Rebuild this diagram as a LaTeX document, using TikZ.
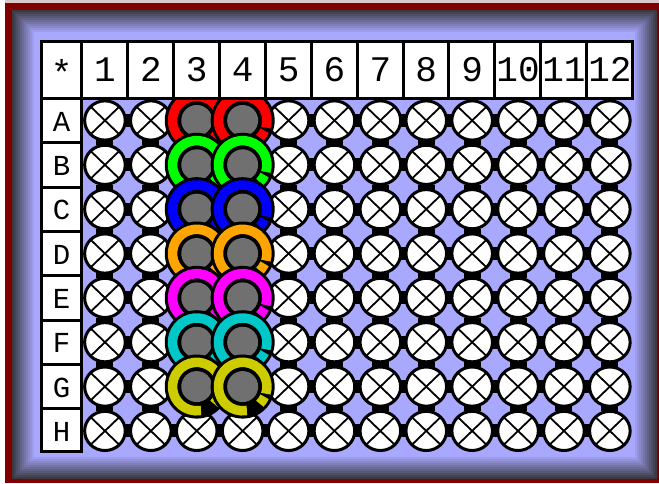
\documentclass[tikz,border=0pt]{standalone}
\usepackage{fontspec}
\setmonofont{Liberation Mono}
\usepackage{tikz}
\definecolor{framered}{RGB}{128,0,0}
\definecolor{framedark}{RGB}{58,58,66}
\definecolor{topline}{RGB}{220,200,200}
\definecolor{platelav}{RGB}{168,168,255}
\definecolor{wellgray}{RGB}{112,112,112}
\definecolor{ringred}{RGB}{255,0,0}
\definecolor{ringgreen}{RGB}{0,255,0}
\definecolor{ringblue}{RGB}{0,0,255}
\definecolor{ringorange}{RGB}{255,165,0}
\definecolor{ringmagenta}{RGB}{255,0,255}
\definecolor{ringteal}{RGB}{0,200,200}
\definecolor{ringyellow}{RGB}{204,204,0}
\tikzset{well/.style={draw=black,line width=3pt,fill=white},
    cross/.style={draw=black,line width=1.8pt},
    gridline/.style={draw=black,line width=3pt},
    header/.style={font=\fontsize{36}{36}\selectfont\ttfamily,inner sep=0pt},
    rowlabel/.style={font=\fontsize{29}{29}\selectfont\ttfamily,inner sep=0pt},
    ring/.style={line width=9.5pt}}

\begin{document}
\begin{tikzpicture}[x=1pt,y=-1pt]
\useasboundingbox (0,0) rectangle (659,483);

% Draw the outer frame with its shaded bevel
\fill[white] (0,0) rectangle (659,483);
\fill[topline] (5,0) rectangle (659,3);
\fill[framered] (5,3) rectangle (659,483);
\foreach \k in {0,...,10} {
  \pgfmathtruncatemacro\mix{\k*9}
  \fill[platelav!\mix!framedark] ({12+2*\k},{10+2*\k}) rectangle ({657-2*\k},{479-2*\k});
}
\fill[platelav] (34,32) rectangle (635,457);

% Define the well centres
\foreach \r in {1,...,8} {
  \foreach \c in {1,...,12} {
    \coordinate (w\r-\c) at ({82+(\c-0.5)*45.9},{98.3+(\r-0.5)*44.35});
  }
}

% Black bars where the wells meet
\foreach \r in {1,...,8} {
  \foreach \c in {1,...,11} {
    \fill[black] ({82+\c*45.9-3.5},{98.3+(\r-0.5)*44.35-6.5}) rectangle ++(7,13);
  }
}
\foreach \r in {1,...,7} {
  \foreach \c in {1,...,12} {
    \fill[black] ({82+(\c-0.5)*45.9-8.5},{98.3+\r*44.35-2.5}) rectangle ++(17,5);
  }
}

% Empty wells with a cross
\foreach \r in {1,...,8} {
  \foreach \c in {1,...,12} {
    \pgfmathtruncatemacro\isring{((\c==3)||(\c==4))&&(\r<8)}
    \ifnum\isring=0
      \draw[well] (w\r-\c) ellipse [x radius=20.3pt, y radius=19.6pt];
      \draw[cross] (w\r-\c) ++(-13.6pt,-13.1pt) -- ++(27.2pt,26.2pt);
      \draw[cross] (w\r-\c) ++(-13.6pt,13.1pt) -- ++(27.2pt,-26.2pt);
    \fi
  }
}

% Filled wells with coloured rings
\foreach \r/\col in {1/ringred,2/ringgreen,3/ringblue,4/ringorange,5/ringmagenta,6/ringteal,7/ringyellow} {
  \foreach \c in {3,4} {
    \fill[black] (w\r-\c) circle (32pt);
    \draw[ring,\col] (w\r-\c) ++(-17:24.25pt) arc[start angle=-17, end angle=280, radius=24.25pt];
    \draw[ring,\col] (w\r-\c) ++(-45:24.25pt) arc[start angle=-45, end angle=-25, radius=24.25pt];
    \fill[wellgray] (w\r-\c) circle (15.5pt);
  }
}

% Header row and row label column
\fill[white] (41.7,41) rectangle (632.8,98.3);
\fill[white] (41.7,98.3) rectangle (81.7,451);
\draw[gridline] (41.7,41) rectangle (632.8,98.3);
\foreach \c in {0,...,11} {
  \draw[gridline] ({81.7+\c*45.9},41) -- ({81.7+\c*45.9},98.3);
}
\draw[gridline] (41.7,98.3) rectangle (81.7,451);
\foreach \r in {1,...,7} {
  \draw[gridline] (41.7,{98.3+\r*44.35}) -- (81.7,{98.3+\r*44.35});
}

% Labels
\node[header] (star) at (61.7,72) {*};
\foreach \c in {1,...,12} {
  \node[header] (col\c) at ({82+(\c-0.5)*45.9},69.6) {\c};
}
\foreach \r/\l in {1/A,2/B,3/C,4/D,5/E,6/F,7/G,8/H} {
  \node[rowlabel] (row\l) at (61.7,{98.3+(\r-0.5)*44.35+1}) {\l};
}
\end{tikzpicture}
\end{document}
